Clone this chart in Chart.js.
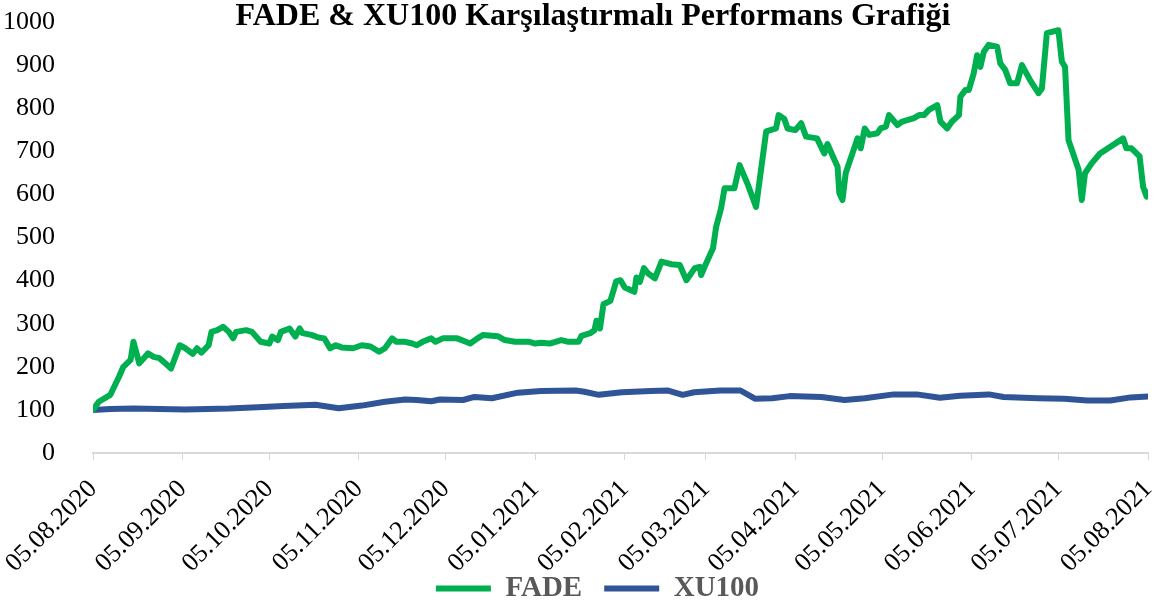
<!DOCTYPE html>
<html>
<head>
<meta charset="utf-8">
<script src="https://cdn.jsdelivr.net/npm/chart.js@4/dist/chart.umd.min.js"></script>
<style>
  html, body { margin: 0; padding: 0; background: #fff; }
  #wrap { width: 1158px; height: 606px; }
</style>
</head>
<body>
<div id="wrap"><canvas id="perfChart"></canvas></div>
<script>
// day offsets from 05.08.2020
const fadeDays = [0, 2, 6, 9, 10.5, 13, 14, 16, 19, 21, 23, 25, 27, 30, 32, 34.5, 36, 37.5, 40, 41, 43, 45, 47, 48.5, 49.5,
    53, 55, 58, 61, 62, 64, 65, 68, 70, 71.5, 72.5, 75.5, 78, 80, 82, 84, 86, 90, 93, 96, 99, 101, 103.5, 105, 108,
    110.5, 112, 114, 117, 118.5, 121, 126, 129, 130.5, 133, 135, 140, 142.5, 146, 151, 153, 155, 158, 162, 164.5,
    168, 169, 172, 173.5, 174.2, 175.4, 176.6, 179, 181, 182.5, 184, 187.3, 188, 189.2, 190.6, 192, 194.4, 196.7,
    200, 203, 205.3, 208.2, 209.9, 210.4, 211.6, 214.5, 215.6, 217.3, 218.5, 221.9, 223.7, 226.6, 229.4, 232.9,
    236.3, 237.2, 239.2, 240.3, 243, 245, 246.7, 250.5, 252.4, 253, 254.1, 256, 257.6, 258.2, 259.3, 260.4, 264.5,
    265.6, 267, 268.5, 271.4, 272.5, 274.3, 275.4, 278.3, 280, 284, 285.8, 287.5, 289.2, 292.1, 293.2, 295.5, 297.2,
    299.6, 300.1, 301.8, 303, 304.7, 305.9, 307, 308.2, 309.9, 312.8, 313.9, 315.6, 317.3, 319.7, 321.4, 324.2,
    327.1, 328.3, 330, 334, 335.2, 336.3, 337.5, 341, 342.1, 343.2, 345.5, 348.4, 356.4, 357.5, 359.3, 362.1,
    363.3, 364.5, 365];
const fadeValues = [100, 119, 135, 177, 200, 216, 258, 208, 231, 223, 220, 208, 196, 250, 243, 230, 243, 233, 250, 281,
    285, 293, 281, 266, 281, 285, 281, 258, 254, 270, 262, 281, 289, 270, 289, 278, 274, 268, 266, 243, 250, 245,
    243, 250, 247, 235, 243, 266, 258, 258, 254, 250, 258, 266, 258, 266, 266, 258, 254, 266, 274, 271, 262, 258,
    258, 254, 256, 254, 262, 258, 258, 272, 278, 285, 307, 289, 345, 353, 398, 401, 384, 374, 407, 397, 429, 417,
    405, 444, 438, 436, 401, 429, 432, 413, 432, 475, 525, 568, 614, 614, 668, 622, 571, 746, 753, 784, 775, 753,
    749, 765, 734, 730, 703, 695, 717, 688, 664, 603, 587, 649, 730, 707, 753, 738, 742, 753, 757, 784, 761, 769,
    777, 784, 784, 796, 807, 769, 753, 769, 784, 827, 842, 842, 881, 923, 896, 931, 947, 943, 904, 889, 858, 858,
    900, 865, 835, 846, 974, 981, 908, 896, 726, 657, 587, 649, 672, 695, 730, 707, 707, 688, 618, 595, 605];

const xuDays = [0, 6, 14, 32, 47, 57, 66, 77, 85, 93, 101, 108, 112, 117, 120, 128, 132, 138, 147, 155, 167, 170, 175,
    183, 193, 199, 204, 208, 217, 224, 229, 235, 241, 252, 260, 267, 277, 285, 293, 300, 310, 315, 327, 336, 344,
    352, 359, 365];
const xuValues = [100, 102, 103, 101, 103, 106, 109, 112, 104, 110, 119, 124, 123, 120, 124, 123, 130, 127, 140, 144,
    145, 142, 135, 141, 144, 145, 135, 141, 145, 145, 126, 127, 132, 130, 123, 127, 136, 136, 128, 133, 136, 130,
    127, 126, 122, 122, 129, 131];

const tickDays = [0, 31, 61, 92, 122, 153, 184, 212, 243, 273, 304, 334, 365];
const tickLabels = ['05.08.2020', '05.09.2020', '05.10.2020', '05.11.2020', '05.12.2020', '05.01.2021',
    '05.02.2021', '05.03.2021', '05.04.2021', '05.05.2021', '05.06.2021', '05.07.2021', '05.08.2021'];

const serif = '"Liberation Serif", "Times New Roman", serif';

const titlePlugin = {
    id: 'topTitle',
    afterDraw(chart) {
        const c = chart.ctx;
        c.save();
        c.font = 'bold 32px ' + serif;
        c.fillStyle = '#000';
        c.textAlign = 'center';
        c.textBaseline = 'middle';
        c.fillText('FADE & XU100 Karşılaştırmalı Performans Grafiği', 593, 17);
        c.restore();
    }
};

// tick labels may hang outside their axis box (no clipping)
const noLabelClip = axis => { axis._computeLabelArea = () => undefined; };

const ctx = document.getElementById('perfChart').getContext('2d');
new Chart(ctx, {
    type: 'line',
    data: {
        datasets: [{
            label: 'FADE',
            data: fadeDays.map((d, i) => ({ x: d, y: fadeValues[i] })),
            borderColor: '#00B050',
            backgroundColor: '#00B050',
            borderWidth: 6,
            pointRadius: 0,
            tension: 0,
            borderJoinStyle: 'round',
            borderCapStyle: 'round'
        }, {
            label: 'XU100',
            data: xuDays.map((d, i) => ({ x: d, y: xuValues[i] })),
            borderColor: '#2F5597',
            backgroundColor: '#2F5597',
            borderWidth: 6,
            pointRadius: 0,
            tension: 0,
            borderJoinStyle: 'round',
            borderCapStyle: 'round'
        }]
    },
    options: {
        responsive: true,
        maintainAspectRatio: false,
        animation: false,
        layout: { padding: { top: 0, right: 10, left: 47, bottom: 0 } },
        plugins: {
            title: { display: false },
            tooltip: { enabled: false },
            legend: {
                position: 'bottom',
                maxHeight: 54,
                labels: {
                    font: { family: serif, size: 29, weight: 'bold' },
                    color: '#595959',
                    boxWidth: 55,
                    boxHeight: 6,
                    padding: 22,
                    generateLabels(chart) {
                        return Chart.defaults.plugins.legend.labels.generateLabels(chart).map(l => {
                            l.lineWidth = 0;
                            return l;
                        });
                    }
                }
            }
        },
        scales: {
            x: {
                type: 'linear',
                min: 0,
                max: 365,
                afterBuildTicks(axis) {
                    axis.ticks = tickDays.map(v => ({ value: v }));
                },
                afterFit(axis) {
                    axis.paddingLeft = 0;
                    axis.paddingRight = 0;
                    axis.height = 99;
                    noLabelClip(axis);
                },
                ticks: {
                    callback(value) {
                        const i = tickDays.indexOf(value);
                        return i >= 0 ? tickLabels[i] : '';
                    },
                    minRotation: 45,
                    maxRotation: 45,
                    color: '#000',
                    font: { family: serif, size: 26 },
                    padding: 14
                },
                grid: {
                    drawOnChartArea: false,
                    drawTicks: true,
                    tickLength: 7,
                    color: '#D9D9D9'
                },
                border: { display: true, color: '#D9D9D9', width: 2 }
            },
            y: {
                min: 0,
                max: 1000,
                afterFit(axis) {
                    axis.width = 46;
                    axis.paddingTop = 22;
                    axis.paddingBottom = 0;
                    noLabelClip(axis);
                },
                ticks: {
                    stepSize: 100,
                    callback: v => String(v),
                    color: '#000',
                    font: { family: serif, size: 26 },
                    padding: 30
                },
                grid: { display: false },
                border: { display: false }
            }
        }
    },
    plugins: [titlePlugin]
});
</script>
</body>
</html>
